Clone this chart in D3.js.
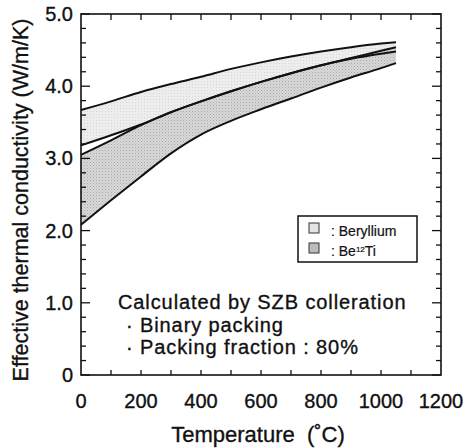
<!DOCTYPE html>
<html>
<head>
<meta charset="utf-8">
<script src="https://cdn.jsdelivr.net/npm/d3@7"></script>
<style>
  body { margin: 0; background: #fff; }
  svg { display: block; font-family: "Liberation Sans", Arial, Helvetica, sans-serif; }
  svg text { stroke: #111; stroke-width: 0.35px; }
</style>
</head>
<body>
<svg width="465" height="448"></svg>
<script>
// temperatures (C) the curves were read at
const temps = [0, 100, 200, 300, 400, 500, 600, 700, 800, 900, 1000, 1050];

// Beryllium band: upper and lower limits (W/m/K)
const beUpper = [3.67, 3.79, 3.92, 4.03, 4.13, 4.24, 4.33, 4.41, 4.48, 4.54, 4.59, 4.61];
const beLower = [3.18, 3.32, 3.47, 3.64, 3.79, 3.93, 4.06, 4.18, 4.29, 4.38, 4.45, 4.48];

// Be12Ti band
const tiUpper = [3.05, 3.25, 3.46, 3.64, 3.79, 3.93, 4.06, 4.18, 4.29, 4.39, 4.49, 4.54];
const tiLower = [2.08, 2.42, 2.75, 3.07, 3.33, 3.52, 3.68, 3.83, 3.98, 4.12, 4.25, 4.32];

const xTickValues = [0, 200, 400, 600, 800, 1000, 1200];
const yTickValues = [0, 1, 2, 3, 4, 5];
const yTickLabels = ["0", "1.0", "2.0", "3.0", "4.0", "5.0"];

const noteLines = ["Calculated by SZB colleration", "\u00b7 Binary packing", "\u00b7 Packing fraction : 80%"];

let svg = d3.select("svg");

let x = d3.scaleLinear().domain([0, 1200]).range([81, 441]);
let y = d3.scaleLinear().domain([0, 5]).range([375, 14]);

// halftone-ish fills
let defs = svg.append("defs");
let p1 = defs.append("pattern").attr("id", "beFill")
    .attr("width", 3).attr("height", 3).attr("patternUnits", "userSpaceOnUse");
p1.append("rect").attr("width", 3).attr("height", 3).attr("fill", "#ededed");
p1.append("rect").attr("width", 1).attr("height", 1).attr("fill", "#d6d6d6");

let p2 = defs.append("pattern").attr("id", "tiFill")
    .attr("width", 3).attr("height", 3).attr("patternUnits", "userSpaceOnUse");
p2.append("rect").attr("width", 3).attr("height", 3).attr("fill", "#d8d8d8");
p2.append("rect").attr("width", 1).attr("height", 1).attr("fill", "#a9a9a9");
p2.append("rect").attr("x", 1.5).attr("y", 1.5).attr("width", 1).attr("height", 1).attr("fill", "#bdbdbd");

let bands = [
    {name: "Beryllium", up: beUpper, lo: beLower, fill: "url(#beFill)"},
    {name: "Be12Ti", up: tiUpper, lo: tiLower, fill: "url(#tiFill)"}
];

let area = d3.area()
    .x((d) => x(d.t))
    .y0((d) => y(d.lo))
    .y1((d) => y(d.up))
    .curve(d3.curveMonotoneX);

let line = d3.line()
    .x((d) => x(d.t))
    .y((d) => y(d.v))
    .curve(d3.curveMonotoneX);

bands.forEach((b) => {
    let rows = temps.map((t, i) => ({t: t, up: b.up[i], lo: b.lo[i]}));
    svg.append("path")
        .attr("d", area(rows))
        .attr("fill", b.fill);
});

bands.forEach((b) => {
    [b.up, b.lo].forEach((vals) => {
        svg.append("path")
            .attr("d", line(temps.map((t, i) => ({t: t, v: vals[i]}))))
            .attr("fill", "none")
            .attr("stroke", "#111")
            .attr("stroke-width", 2);
    });
});

// frame
svg.append("rect")
    .attr("x", x(0)).attr("y", y(5))
    .attr("width", x(1200) - x(0)).attr("height", y(0) - y(5))
    .attr("fill", "none").attr("stroke", "#111").attr("stroke-width", 1.6);

// inward ticks on all four sides
let minorY = d3.range(0, 5.01, 0.2).map((v) => +v.toFixed(1));
let ticks = svg.append("g").attr("stroke", "#111").attr("stroke-width", 1.3);
minorY.forEach((v) => {
    let len = Number.isInteger(v) ? 9 : 5;
    ticks.append("line").attr("x1", x(0)).attr("x2", x(0) + len).attr("y1", y(v)).attr("y2", y(v));
    ticks.append("line").attr("x1", x(1200)).attr("x2", x(1200) - len).attr("y1", y(v)).attr("y2", y(v));
});
d3.range(100, 1200, 100).forEach((t) => {
    ticks.append("line").attr("x1", x(t)).attr("x2", x(t)).attr("y1", y(0)).attr("y2", y(0) - 5);
    ticks.append("line").attr("x1", x(t)).attr("x2", x(t)).attr("y1", y(5)).attr("y2", y(5) + 6);
});

// tick labels
svg.append("g").selectAll("text")
    .data(xTickValues)
    .enter()
    .append("text")
    .attr("x", (d) => x(d))
    .attr("y", 408)
    .attr("text-anchor", "middle")
    .attr("font-size", 20)
    .attr("fill", "#111")
    .text((d) => d);

svg.append("g").selectAll("text")
    .data(yTickValues)
    .enter()
    .append("text")
    .attr("x", 73)
    .attr("y", (d) => y(d) + 7)
    .attr("text-anchor", "end")
    .attr("font-size", 20)
    .attr("fill", "#111")
    .text((d, i) => yTickLabels[i]);

// axis titles
svg.append("text")
    .attr("x", 258).attr("y", 442)
    .attr("text-anchor", "middle")
    .attr("font-size", 22)
    .attr("fill", "#111")
    .attr("xml:space", "preserve")
    .text("Temperature  (\u02daC)");

svg.append("text")
    .attr("transform", "translate(28,200) rotate(-90)")
    .attr("text-anchor", "middle")
    .attr("font-size", 21.5)
    .attr("fill", "#111")
    .text("Effective thermal conductivity (W/m/K)");

// legend
let legend = svg.append("g").attr("transform", "translate(298,216)");
legend.append("rect")
    .attr("width", 119).attr("height", 46)
    .attr("fill", "#fff").attr("stroke", "#111").attr("stroke-width", 1.5);

let rowsL = legend.selectAll("g.row")
    .data(bands)
    .enter()
    .append("g")
    .attr("class", "row")
    .attr("transform", (d, i) => `translate(0, ${i * 20})`);

rowsL.append("rect")
    .attr("x", 11).attr("y", 7)
    .attr("width", 10).attr("height", 10)
    .attr("fill", (d, i) => i === 0 ? "#e3e3e3" : "#bcbcbc")
    .attr("stroke", "#333").attr("stroke-width", 1);

let lt = rowsL.append("text")
    .attr("x", 33).attr("y", 20)
    .attr("font-size", 14)
    .attr("fill", "#111")
    .style("stroke-width", "0.2px");
lt.filter((d, i) => i === 0).text(": Beryllium");
let t2 = lt.filter((d, i) => i === 1);
t2.append("tspan").text(": Be");
t2.append("tspan").attr("font-size", 8).attr("dy", -4).text("12");
t2.append("tspan").attr("dy", 4).text("Ti");

// note
svg.append("g").selectAll("text")
    .data(noteLines)
    .enter()
    .append("text")
    .attr("x", (d, i) => i === 0 ? 118 : 126)
    .attr("y", (d, i) => [309, 331.5, 354][i])
    .attr("font-size", 20)
    .attr("letter-spacing", 0.9)
    .attr("fill", "#111")
    .text((d) => d);
</script>
</body>
</html>
